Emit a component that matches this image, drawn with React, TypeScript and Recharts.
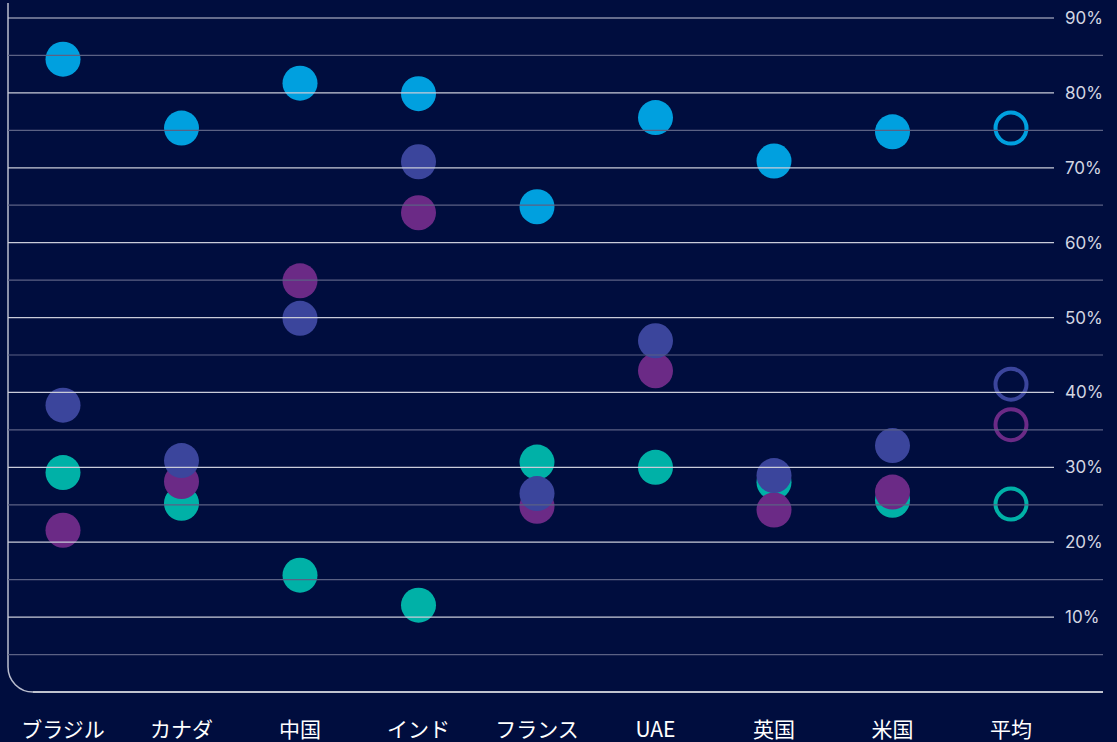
import React from 'react';
import { ComposedChart, Scatter, XAxis, YAxis } from 'recharts';

const countries = ['ブラジル', 'カナダ', '中国', 'インド', 'フランス', 'UAE', '英国', '米国', '平均'];

const blueValues = [84.5, 75.3, 81.3, 79.9, 64.8, 76.7, 70.9, 74.8, 75.3];
const indigoValues = [38.3, 30.9, 49.9, 70.8, 26.5, 46.9, 28.9, 32.9, 41.1];
const purpleValues = [21.6, 28.1, 54.9, 64.0, 24.8, 42.9, 24.3, 26.7, 35.7];
const tealValues = [29.3, 25.2, 15.6, 11.6, 30.7, 30.0, 28.0, 25.6, 25.1];

const yTicks = [5, 10, 15, 20, 25, 30, 35, 40, 45, 50, 55, 60, 65, 70, 75, 80, 85, 90];

const BG = '#000d3e';
const COLORS = {
  blue: '#00a0df',
  indigo: '#3b459c',
  purple: '#6b2a86',
  teal: '#00b1a7',
};

const data = countries.map((name, i) => ({
  name,
  blue: blueValues[i],
  indigo: indigoValues[i],
  purple: purpleValues[i],
  teal: tealValues[i],
}));

const dotShape = (color: string) => (props: any) => {
  const { cx, cy, payload } = props;
  if (cx == null || cy == null) return <g />;
  if (payload.name === '平均') {
    return <circle cx={cx} cy={cy} r={15.5} fill="none" stroke={color} strokeWidth={4} />;
  }
  return <circle cx={cx} cy={cy} r={17.5} fill={color} />;
};

// gridline + label per y tick: 10% steps are labelled and stop short, 5% steps run to the edge
const YTick = (props: any) => {
  const { y, payload } = props;
  const v = payload.value;
  const major = v % 10 === 0;
  return (
    <g>
      <line
        x1={8}
        x2={major ? 1054 : 1103}
        y1={y}
        y2={y}
        stroke={major ? '#c9ccd9' : '#5b6184'}
        strokeWidth={1.2}
      />
      {major && (
        <text x={1065} y={y} dy={6} fill="#d3d6e2" fontSize={17} fontFamily="Inter, 'Noto Sans', sans-serif">
          {`${v}%`}
        </text>
      )}
    </g>
  );
};

const XTick = (props: any) => {
  const { x, payload } = props;
  return (
    <text
      x={x}
      y={737}
      textAnchor="middle"
      fill="#ffffff"
      fontSize={21}
      fontFamily="'Noto Sans CJK JP', 'Noto Sans', sans-serif"
    >
      {payload.value}
    </text>
  );
};

export default function App() {
  return (
    <div style={{ position: 'fixed', left: 0, top: 0, width: 1117, height: 742, background: BG }}>
      <svg width={1117} height={742} style={{ position: 'absolute', left: 0, top: 0 }}>
        <path d="M8 3 L8 667 A25 25 0 0 0 33 692" fill="none" stroke="#b9bdce" strokeWidth={1.5} />
        <line x1={33} x2={1103} y1={692} y2={692} stroke="#ffffff" strokeWidth={1.5} />
      </svg>
      <div style={{ position: 'absolute', left: 0, top: 0 }}>
        <ComposedChart width={1117} height={742} data={data} margin={{ top: 18, right: 0, bottom: 0, left: 4 }}>
          <XAxis
            dataKey="name"
            type="category"
            height={50}
            axisLine={false}
            tickLine={false}
            tick={XTick}
            interval={0}
            padding={{ left: 59, right: 59 }}
          />
          <YAxis
            orientation="right"
            width={47}
            type="number"
            domain={[0, 90]}
            ticks={yTicks}
            axisLine={false}
            tickLine={false}
            tick={YTick}
            interval={0}
          />
          <Scatter dataKey="teal" fill={COLORS.teal} shape={dotShape(COLORS.teal)} isAnimationActive={false} />
          <Scatter dataKey="purple" fill={COLORS.purple} shape={dotShape(COLORS.purple)} isAnimationActive={false} />
          <Scatter dataKey="indigo" fill={COLORS.indigo} shape={dotShape(COLORS.indigo)} isAnimationActive={false} />
          <Scatter dataKey="blue" fill={COLORS.blue} shape={dotShape(COLORS.blue)} isAnimationActive={false} />
        </ComposedChart>
      </div>
    </div>
  );
}
